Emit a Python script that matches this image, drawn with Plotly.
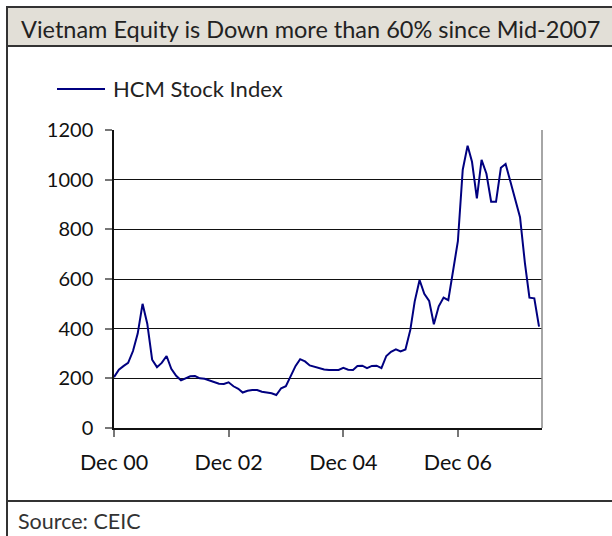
import plotly.graph_objects as go
import pandas as pd

# ---- data ----
months = pd.date_range("2000-12-01", "2008-05-01", freq="MS")
hcm_index = [
    205, 235, 250, 262, 310, 380, 500, 420, 275, 245, 262, 290,   # Dec00-Nov01
    238, 210, 192, 200, 208, 209, 200, 198, 192, 183, 178, 177,   # Dec01-Nov02
    184, 168, 158, 143, 150, 153, 153, 146, 142, 140, 133, 160,   # Dec02-Nov03
    168, 212, 250, 277, 268, 252, 247, 240, 236, 234, 234, 234,   # Dec03-Nov04
    242, 235, 234, 250, 251, 241, 250, 251, 241, 290, 307, 317,   # Dec04-Nov05
    308, 316, 395, 510, 596, 540, 512, 418, 490, 525, 515, 630,   # Dec05-Nov06
    752, 1040, 1137, 1072, 925, 1080, 1024, 911, 911, 1048, 1063, 992,  # Dec06-Nov07
    925, 849, 665, 525, 522, 408,                                 # Dec07-May08
]
series_name = "HCM Stock Index"
title_text = "Vietnam Equity is Down more than 60% since Mid-2007"
source_text = "Source: CEIC"
x_tick_dates = ["2000-12-01", "2002-12-01", "2004-12-01", "2006-12-01"]
x_tick_labels = ["Dec 00", "Dec 02", "Dec 04", "Dec 06"]
y_ticks = [0, 200, 400, 600, 800, 1000, 1200]

# ---- layout geometry (pixels) ----
W, H = 612, 536
L, R, T, B = 114, 542, 130, 428
pw, ph = R - L, B - T

def px(x):
    return (x - L) / pw

def py(y):
    return (B - y) / ph

FONT = "Lato"
NAVY = "#000080"

fig = go.Figure()
fig.add_trace(go.Scatter(
    x=months, y=hcm_index, mode="lines", name=series_name,
    line=dict(color=NAVY, width=2), showlegend=False,
))

shapes = [
    # title box
    dict(type="rect", xref="paper", yref="paper", x0=px(7), x1=px(640), y0=py(46), y1=py(7),
         fillcolor="#E2DFD7", line=dict(color="#333333", width=2), layer="below"),
    # left border of main panel
    dict(type="line", xref="paper", yref="paper", x0=px(7), x1=px(7), y0=py(46), y1=py(540),
         line=dict(color="#333333", width=2)),
    # separator above source
    dict(type="line", xref="paper", yref="paper", x0=px(7), x1=px(640), y0=py(501), y1=py(501),
         line=dict(color="#333333", width=2)),
    # right border of plot area
    dict(type="line", xref="paper", yref="paper", x0=1, x1=1, y0=0, y1=1,
         line=dict(color="#888888", width=1.5)),
    # legend sample line
    dict(type="line", xref="paper", yref="paper", x0=px(57), x1=px(105), y0=py(89), y1=py(89),
         line=dict(color=NAVY, width=2)),
]

annotations = [
    dict(text=title_text, xref="paper", yref="paper", x=px(19), y=py(29),
         xanchor="left", yanchor="middle", showarrow=False,
         font=dict(family=FONT, size=23.5, color="#222222")),
    dict(text=series_name, xref="paper", yref="paper", x=px(111), y=py(89),
         xanchor="left", yanchor="middle", showarrow=False,
         font=dict(family=FONT, size=22, color="#222222")),
    dict(text=source_text, xref="paper", yref="paper", x=px(16), y=py(521),
         xanchor="left", yanchor="middle", showarrow=False,
         font=dict(family=FONT, size=21.5, color="#333333")),
]

fig.update_layout(
    width=W, height=H,
    margin=dict(l=L, r=W - R, t=T, b=H - B, pad=0),
    paper_bgcolor="white", plot_bgcolor="white",
    shapes=shapes, annotations=annotations,
    font=dict(family=FONT, size=20, color="#111111"),
    xaxis=dict(
        range=["2000-12-01", "2008-05-20"],
        tickvals=x_tick_dates, ticktext=x_tick_labels,
        ticks="outside", ticklen=7, tickcolor="#777777", tickwidth=1.5,
        ticklabelstandoff=7,
        showline=True, linecolor="#111111", linewidth=1.5,
        showgrid=False, zeroline=False,
        tickfont=dict(family=FONT, size=21.5, color="#111111"),
    ),
    yaxis=dict(
        range=[0, 1200], tickvals=y_ticks,
        ticks="outside", ticklen=7, tickcolor="#777777", tickwidth=1.5,
        ticklabelstandoff=8,
        showline=True, linecolor="#111111", linewidth=1.5,
        showgrid=True, gridcolor="#111111", gridwidth=1,
        zeroline=False,
        tickfont=dict(family=FONT, size=20, color="#111111"),
    ),
)

fig.write_html("out.html")
